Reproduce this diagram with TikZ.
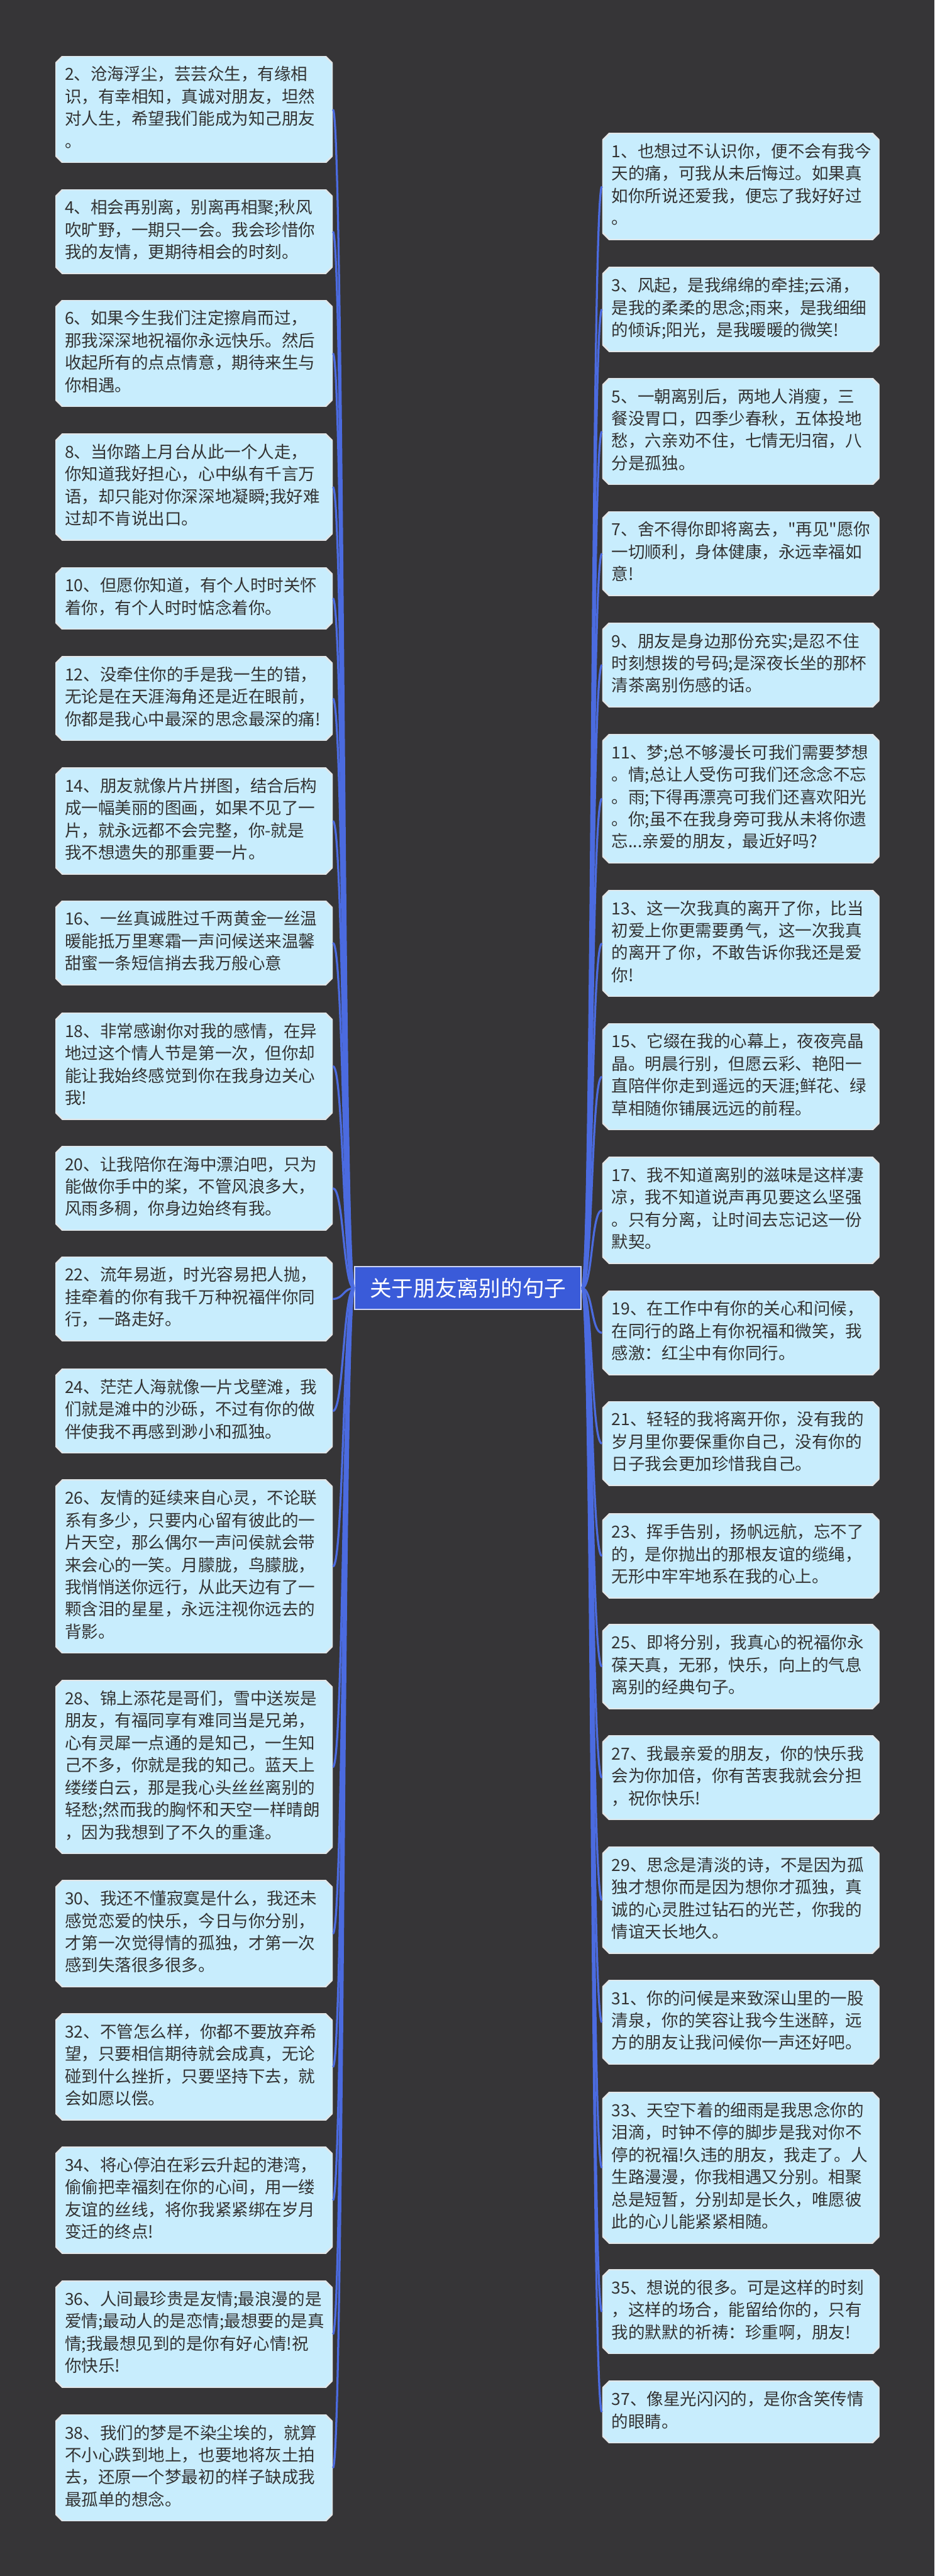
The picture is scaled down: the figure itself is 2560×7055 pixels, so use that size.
\documentclass[tikz,border=0pt]{standalone}
\usepackage{fontspec}
\newfontfamily\cjk{Noto Sans CJK SC}

\definecolor{bgdark}{HTML}{363537}
\definecolor{leafcyan}{HTML}{C8EDFD}
\definecolor{leafedge}{HTML}{E2E6E8}
\definecolor{inkgray}{HTML}{333333}
\definecolor{linkblue}{HTML}{4B6BE0}
\definecolor{rootblue}{HTML}{3A5BD9}

\begin{document}
\begin{tikzpicture}[
  x=0.01cm, y=-0.01cm,
  leaf/.style={rectangle, text=inkgray, font=\cjk\fontsize{13pt}{17.36pt}\selectfont,
    text width=7.07cm, align=left, inner xsep=0.26cm, inner ysep=0.24cm,
    anchor=north west, execute at begin node=\strut, execute at end node=\strut,
    path picture={
      \fill[leafcyan, draw=leafedge, line width=1.2pt]
        ([xshift=0.2cm]path picture bounding box.north west)
        -- ([xshift=-0.2cm]path picture bounding box.north east)
        -- ([yshift=-0.2cm]path picture bounding box.north east)
        -- ([yshift=0.2cm]path picture bounding box.south east)
        -- ([xshift=-0.2cm]path picture bounding box.south east)
        -- ([xshift=0.2cm]path picture bounding box.south west)
        -- ([yshift=0.2cm]path picture bounding box.south west)
        -- ([yshift=-0.2cm]path picture bounding box.north west) -- cycle;
    }},
  root/.style={rectangle, fill=rootblue, draw=white!75!rootblue, line width=1pt,
    text=white, font=\cjk\fontsize{17pt}{20pt}\selectfont,
    minimum width=6.2cm, minimum height=1.17cm},
  link/.style={draw=linkblue, line width=1.6pt, out distance=0.3cm, in distance=0.3cm},
  linkl/.style={link, out=180, in=0},
  linkr/.style={link, out=0, in=180}
]
\fill[bgdark] (0,0) rectangle (2560,7055);
\useasboundingbox (0,0) rectangle (2560,7055);

\node[root] (root) at (1282,3528) {关于朋友离别的句子};

% left column
\node[leaf] (s2) at (151,153) {2、沧海浮尘，芸芸众生，有缘相\\识，有幸相知，真诚对朋友，坦然\\对人生，希望我们能成为知己朋友\\。};
\node[leaf] (s4) at (151,518) {4、相会再别离，别离再相聚;秋风\\吹旷野，一期只一会。我会珍惜你\\我的友情，更期待相会的时刻。};
\node[leaf] (s6) at (151,821) {6、如果今生我们注定擦肩而过，\\那我深深地祝福你永远快乐。然后\\收起所有的点点情意，期待来生与\\你相遇。};
\node[leaf] (s8) at (151,1187) {8、当你踏上月台从此一个人走，\\你知道我好担心，心中纵有千言万\\语，却只能对你深深地凝瞬;我好难\\过却不肯说出口。};
\node[leaf] (s10) at (151,1553) {10、但愿你知道，有个人时时关怀\\着你，有个人时时惦念着你。};
\node[leaf] (s12) at (151,1797) {12、没牵住你的手是我一生的错，\\无论是在天涯海角还是近在眼前，\\你都是我心中最深的思念最深的痛!};
\node[leaf] (s14) at (151,2102) {14、朋友就像片片拼图，结合后构\\成一幅美丽的图画，如果不见了一\\片，就永远都不会完整，你-就是\\我不想遗失的那重要一片。};
\node[leaf] (s16) at (151,2466) {16、一丝真诚胜过千两黄金一丝温\\暖能抵万里寒霜一声问候送来温馨\\甜蜜一条短信捎去我万般心意};
\node[leaf] (s18) at (151,2773) {18、非常感谢你对我的感情，在异\\地过这个情人节是第一次，但你却\\能让我始终感觉到你在我身边关心\\我!};
\node[leaf] (s20) at (151,3138) {20、让我陪你在海中漂泊吧，只为\\能做你手中的桨，不管风浪多大，\\风雨多稠，你身边始终有我。};
\node[leaf] (s22) at (151,3441) {22、流年易逝，时光容易把人抛，\\挂牵着的你有我千万种祝福伴你同\\行，一路走好。};
\node[leaf] (s24) at (151,3748) {24、茫茫人海就像一片戈壁滩，我\\们就是滩中的沙砾，不过有你的做\\伴使我不再感到渺小和孤独。};
\node[leaf] (s26) at (151,4052) {26、友情的延续来自心灵，不论联\\系有多少，只要内心留有彼此的一\\片天空，那么偶尔一声问侯就会带\\来会心的一笑。月朦胧，鸟朦胧，\\我悄悄送你远行，从此天边有了一\\颗含泪的星星，永远注视你远去的\\背影。};
\node[leaf] (s28) at (151,4601) {28、锦上添花是哥们，雪中送炭是\\朋友，有福同享有难同当是兄弟，\\心有灵犀一点通的是知己，一生知\\己不多，你就是我的知己。蓝天上\\缕缕白云，那是我心头丝丝离别的\\轻愁;然而我的胸怀和天空一样晴朗\\，因为我想到了不久的重逢。};
\node[leaf] (s30) at (151,5149) {30、我还不懂寂寞是什么，我还未\\感觉恋爱的快乐，今日与你分别，\\才第一次觉得情的孤独，才第一次\\感到失落很多很多。};
\node[leaf] (s32) at (151,5514) {32、不管怎么样，你都不要放弃希\\望，只要相信期待就会成真，无论\\碰到什么挫折，只要坚持下去，就\\会如愿以偿。};
\node[leaf] (s34) at (151,5879) {34、将心停泊在彩云升起的港湾，\\偷偷把幸福刻在你的心间，用一缕\\友谊的丝线，将你我紧紧绑在岁月\\变迁的终点!};
\node[leaf] (s36) at (151,6246) {36、人间最珍贵是友情;最浪漫的是\\爱情;最动人的是恋情;最想要的是真\\情;我最想见到的是你有好心情!祝\\你快乐!};
\node[leaf] (s38) at (151,6612) {38、我们的梦是不染尘埃的，就算\\不小心跌到地上，也要地将灰土拍\\去，还原一个梦最初的样子缺成我\\最孤单的想念。};

% right column
\node[leaf] (s1) at (1649,364) {1、也想过不认识你，便不会有我今\\天的痛，可我从未后悔过。如果真\\如你所说还爱我，便忘了我好好过\\。};
\node[leaf] (s3) at (1649,731) {3、风起，是我绵绵的牵挂;云涌，\\是我的柔柔的思念;雨来，是我细细\\的倾诉;阳光，是我暖暖的微笑!};
\node[leaf] (s5) at (1649,1035) {5、一朝离别后，两地人消瘦，三\\餐没胃口，四季少春秋，五体投地\\愁，六亲劝不住，七情无归宿，八\\分是孤独。};
\node[leaf] (s7) at (1649,1400) {7、舍不得你即将离去，"再见"愿你\\一切顺利，身体健康，永远幸福如\\意!};
\node[leaf] (s9) at (1649,1705) {9、朋友是身边那份充实;是忍不住\\时刻想拨的号码;是深夜长坐的那杯\\清茶离别伤感的话。};
\node[leaf] (s11) at (1649,2010) {11、梦;总不够漫长可我们需要梦想\\。情;总让人受伤可我们还念念不忘\\。雨;下得再漂亮可我们还喜欢阳光\\。你;虽不在我身旁可我从未将你遗\\忘...亲爱的朋友，最近好吗?};
\node[leaf] (s13) at (1649,2437) {13、这一次我真的离开了你，比当\\初爱上你更需要勇气，这一次我真\\的离开了你，不敢告诉你我还是爱\\你!};
\node[leaf] (s15) at (1649,2802) {15、它缀在我的心幕上，夜夜亮晶\\晶。明晨行别，但愿云彩、艳阳一\\直陪伴你走到遥远的天涯;鲜花、绿\\草相随你铺展远远的前程。};
\node[leaf] (s17) at (1649,3168) {17、我不知道离别的滋味是这样凄\\凉，我不知道说声再见要这么坚强\\。只有分离，让时间去忘记这一份\\默契。};
\node[leaf] (s19) at (1649,3534) {19、在工作中有你的关心和问候，\\在同行的路上有你祝福和微笑，我\\感激：红尘中有你同行。};
\node[leaf] (s21) at (1649,3837) {21、轻轻的我将离开你，没有我的\\岁月里你要保重你自己，没有你的\\日子我会更加珍惜我自己。};
\node[leaf] (s23) at (1649,4145) {23、挥手告别，扬帆远航，忘不了\\的，是你抛出的那根友谊的缆绳，\\无形中牢牢地系在我的心上。};
\node[leaf] (s25) at (1649,4448) {25、即将分别，我真心的祝福你永\\葆天真，无邪，快乐，向上的气息\\离别的经典句子。};
\node[leaf] (s27) at (1649,4752) {27、我最亲爱的朋友，你的快乐我\\会为你加倍，你有苦衷我就会分担\\，祝你快乐!};
\node[leaf] (s29) at (1649,5057) {29、思念是清淡的诗，不是因为孤\\独才想你而是因为想你才孤独，真\\诚的心灵胜过钻石的光芒，你我的\\情谊天长地久。};
\node[leaf] (s31) at (1649,5422) {31、你的问候是来致深山里的一股\\清泉，你的笑容让我今生迷醉，远\\方的朋友让我问候你一声还好吧。};
\node[leaf] (s33) at (1649,5729) {33、天空下着的细雨是我思念你的\\泪滴，时钟不停的脚步是我对你不\\停的祝福!久违的朋友，我走了。人\\生路漫漫，你我相遇又分别。相聚\\总是短暂，分别却是长久，唯愿彼\\此的心儿能紧紧相随。};
\node[leaf] (s35) at (1649,6215) {35、想说的很多。可是这样的时刻\\，这样的场合，能留给你的，只有\\我的默默的祈祷：珍重啊，朋友!};
\node[leaf] (s37) at (1649,6520) {37、像星光闪闪的，是你含笑传情\\的眼睛。};

% branches
\draw[linkl] (root.west) to (s2.east);
\draw[linkl] (root.west) to (s4.east);
\draw[linkl] (root.west) to (s6.east);
\draw[linkl] (root.west) to (s8.east);
\draw[linkl] (root.west) to (s10.east);
\draw[linkl] (root.west) to (s12.east);
\draw[linkl] (root.west) to (s14.east);
\draw[linkl] (root.west) to (s16.east);
\draw[linkl] (root.west) to (s18.east);
\draw[linkl] (root.west) to (s20.east);
\draw[linkl] (root.west) to (s22.east);
\draw[linkl] (root.west) to (s24.east);
\draw[linkl] (root.west) to (s26.east);
\draw[linkl] (root.west) to (s28.east);
\draw[linkl] (root.west) to (s30.east);
\draw[linkl] (root.west) to (s32.east);
\draw[linkl] (root.west) to (s34.east);
\draw[linkl] (root.west) to (s36.east);
\draw[linkl] (root.west) to (s38.east);
\draw[linkr] (root.east) to (s1.west);
\draw[linkr] (root.east) to (s3.west);
\draw[linkr] (root.east) to (s5.west);
\draw[linkr] (root.east) to (s7.west);
\draw[linkr] (root.east) to (s9.west);
\draw[linkr] (root.east) to (s11.west);
\draw[linkr] (root.east) to (s13.west);
\draw[linkr] (root.east) to (s15.west);
\draw[linkr] (root.east) to (s17.west);
\draw[linkr] (root.east) to (s19.west);
\draw[linkr] (root.east) to (s21.west);
\draw[linkr] (root.east) to (s23.west);
\draw[linkr] (root.east) to (s25.west);
\draw[linkr] (root.east) to (s27.west);
\draw[linkr] (root.east) to (s29.west);
\draw[linkr] (root.east) to (s31.west);
\draw[linkr] (root.east) to (s33.west);
\draw[linkr] (root.east) to (s35.west);
\draw[linkr] (root.east) to (s37.west);
\end{tikzpicture}
\end{document}
